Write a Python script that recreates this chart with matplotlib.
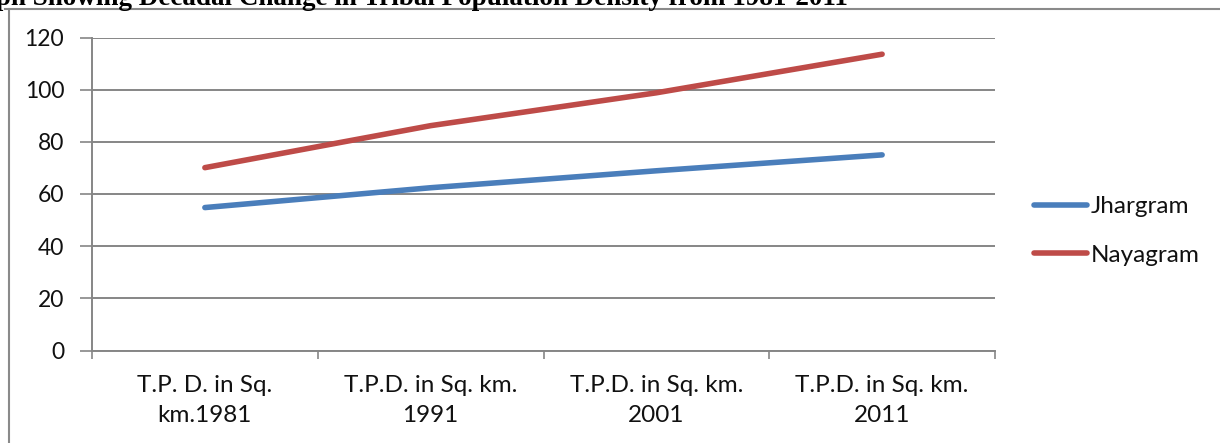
import numpy as np
import matplotlib.pyplot as plt
from matplotlib.lines import Line2D

categories = ["T.P. D. in Sq.\nkm.1981", "T.P.D. in Sq. km.\n1991",
              "T.P.D. in Sq. km.\n2001", "T.P.D. in Sq. km.\n2011"]
jhargram = [54.8, 62.4, 68.9, 75.0]
nayagram = [70.1, 86.2, 98.8, 113.6]
yticks = [0, 20, 40, 60, 80, 100, 120]

W, H = 1220, 443
plt.rcParams['font.family'] = ['Lato', 'DejaVu Sans']
fig = plt.figure(figsize=(W / 100, H / 100), dpi=100)
ax = fig.add_axes([92 / W, 1 - 350.5 / H, (995 - 92) / W, (350.5 - 37.5) / H])

grid_c = "#868686"
txt_c = "#111111"
x = np.arange(len(categories))
ax.plot(x, jhargram, color="#4A7EBB", lw=4.0, solid_capstyle="round", label="Jhargram", zorder=3)
ax.plot(x, nayagram, color="#BE4B48", lw=4.0, solid_capstyle="round", label="Nayagram", zorder=3)

ax.set_xlim(-0.5, len(categories) - 0.5)
ax.set_ylim(0, 120)
ax.set_yticks(yticks)
ax.yaxis.grid(True, color=grid_c, lw=1.4)
ax.set_axisbelow(True)

ax.set_xticks(x)
ax.set_xticklabels(categories, fontsize=17.5, color=txt_c, linespacing=1.52)
ax.set_xticks(np.arange(-0.5, len(categories)), minor=True)
ax.tick_params(axis="x", which="major", length=0, pad=18)
ax.tick_params(axis="x", which="minor", length=6, width=1.2, color=grid_c)
ax.tick_params(axis="y", length=9, width=1.2, color=grid_c, pad=11, labelsize=16.5, labelcolor=txt_c)

for s in ["top", "right"]:
    ax.spines[s].set_visible(False)
for s in ["left", "bottom"]:
    ax.spines[s].set_color(grid_c)
    ax.spines[s].set_linewidth(1.4)

leg = ax.legend(loc="upper left", bbox_to_anchor=(1034 / W, 1 - 196 / H),
                bbox_transform=fig.transFigure, frameon=False, fontsize=17.5,
                borderpad=0, borderaxespad=0, handlelength=2.2, handletextpad=0.12,
                labelspacing=1.15)
for t in leg.get_texts():
    t.set_color(txt_c)

# page frame and clipped caption above the chart
fig.add_artist(Line2D([5 / W, 1], [1 - 8.5 / H, 1 - 8.5 / H], color="#8a8a8a", lw=1.5))
fig.add_artist(Line2D([8.5 / W, 8.5 / W], [0, 1 - 8.5 / H], color="#8a8a8a", lw=1.5))
fig.text(848 / W, 1 - 5 / H, "Graph Showing Decadal Change in Tribal Population Density from 1981-2011",
         ha="right", va="baseline", fontsize=19.5, fontweight="bold", family="Liberation Serif")

fig.savefig("out.png", dpi=100)
